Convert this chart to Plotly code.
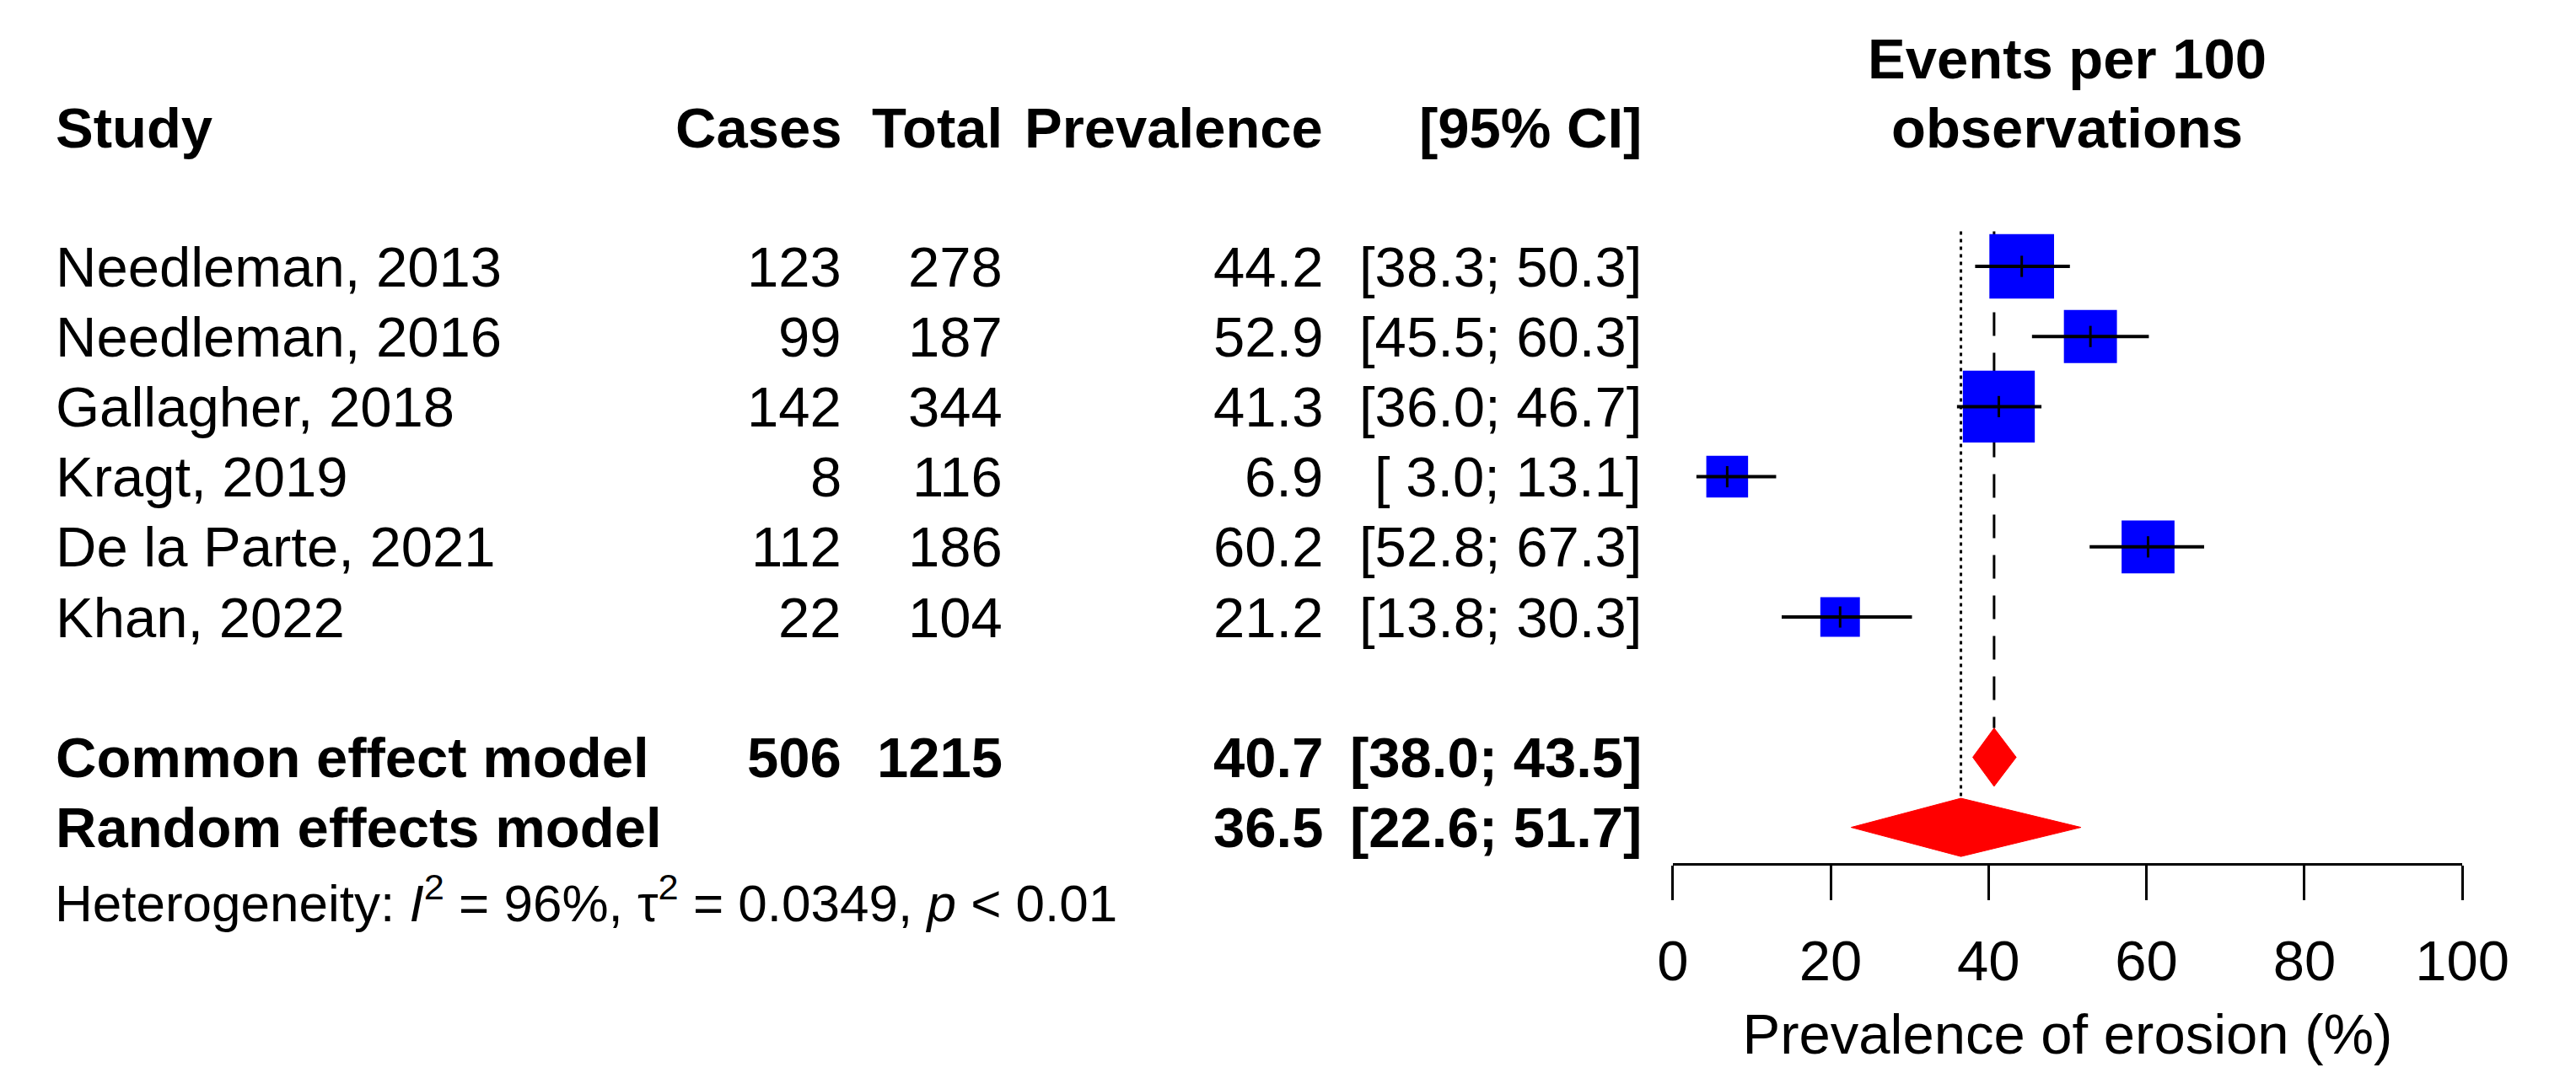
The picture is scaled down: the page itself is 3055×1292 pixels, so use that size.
import math
import plotly.graph_objects as go

# ---------------- data ----------------
studies = ["Needleman, 2013", "Needleman, 2016", "Gallagher, 2018",
           "Kragt, 2019", "De la Parte, 2021", "Khan, 2022"]
cases = [123, 99, 142, 8, 112, 22]
totals = [278, 187, 344, 116, 186, 104]
prevalence = [44.2, 52.9, 41.3, 6.9, 60.2, 21.2]
ci_low = [38.3, 45.5, 36.0, 3.0, 52.8, 13.8]
ci_high = [50.3, 60.3, 46.7, 13.1, 67.3, 30.3]

model_labels = ["Common effect model", "Random effects model"]
model_cases = ["506", ""]
model_totals = ["1215", ""]
model_est = [40.7, 36.5]
model_low = [38.0, 22.6]
model_high = [43.5, 51.7]

het_i2 = "96%"
het_tau2 = "0.0349"
het_p = "&lt; 0.01"

x_ticks = [0, 20, 40, 60, 80, 100]
headers = ["Study", "Cases", "Total", "Prevalence", "[95% CI]"]
right_title = ["Events per 100", "observations"]
x_title = "Prevalence of erosion (%)"

# ---------------- layout geometry ----------------
W, H = 3055, 1292
ROW0_PX, ROW_PX = 308, 83.2
FONT = "Arial, Liberation Sans, sans-serif"
FS = 67
BLUE = "#0000FF"
RED = "#FF0000"

study_rows = list(range(len(studies)))
model_rows = [7, 8]
het_row = 9.03
header_row = -1.98
col_x = [38, 997, 1193, 1583, 1970]  # px: left, right, right, right, right
diam_h = 0.415

fig = go.Figure()

# reference lines (behind squares)
fig.add_trace(go.Scatter(x=[model_est[0], model_est[0]], y=[-0.5, model_rows[0] - diam_h],
                         mode="lines", line=dict(color="black", width=3, dash="28px,20px"),
                         hoverinfo="skip", showlegend=False))
fig.add_trace(go.Scatter(x=[model_est[1], model_est[1]], y=[-0.5, model_rows[1] - diam_h],
                         mode="lines", line=dict(color="black", width=3, dash="4px,5px"),
                         hoverinfo="skip", showlegend=False))

# squares (area proportional to study size)
sizes = [4.6 * math.sqrt(t) for t in totals]
fig.add_trace(go.Scatter(x=prevalence, y=study_rows, mode="markers",
                         marker=dict(symbol="square", size=sizes, color=BLUE, opacity=1,
                                     line=dict(width=0)),
                         hoverinfo="skip", showlegend=False))

# CI lines
cx, cy = [], []
for lo, hi, r in zip(ci_low, ci_high, study_rows):
    cx += [lo, hi, None]
    cy += [r, r, None]
fig.add_trace(go.Scatter(x=cx, y=cy, mode="lines", line=dict(color="black", width=4),
                         hoverinfo="skip", showlegend=False))
# small vertical tick at point estimate
fig.add_trace(go.Scatter(x=prevalence, y=study_rows, mode="markers",
                         marker=dict(symbol="line-ns-open", size=18, color="black", opacity=1,
                                     line=dict(width=3, color="black")),
                         hoverinfo="skip", showlegend=False))

# diamonds
for est, lo, hi, r in zip(model_est, model_low, model_high, model_rows):
    fig.add_trace(go.Scatter(x=[lo, est, hi, est, lo], y=[r, r - diam_h, r, r + diam_h, r],
                             mode="lines", fill="toself", fillcolor=RED,
                             line=dict(color=RED, width=1),
                             hoverinfo="skip", showlegend=False))

# ---------------- text columns ----------------
ann = []


def txt(text, xpx, row, anchor, bold=False, size=FS):
    ann.append(dict(text=f"<b>{text}</b>" if bold else text,
                    x=xpx / W, xref="paper", y=row, yref="y",
                    xanchor=anchor, yanchor="middle", showarrow=False,
                    font=dict(family=FONT, size=size, color="black")))


anchors = ["left", "right", "right", "right", "right"]
for h, xp, a in zip(headers, col_x, anchors):
    txt(h, xp, header_row, a, bold=True)

for i, r in enumerate(study_rows):
    vals = [studies[i], str(cases[i]), str(totals[i]), f"{prevalence[i]:.1f}",
            f"[{ci_low[i]:4.1f}; {ci_high[i]:4.1f}]"]
    for v, xp, a in zip(vals, col_x, anchors):
        txt(v, xp, r, a)

for i, r in enumerate(model_rows):
    vals = [model_labels[i], model_cases[i], model_totals[i], f"{model_est[i]:.1f}",
            f"[{model_low[i]:4.1f}; {model_high[i]:4.1f}]"]
    for v, xp, a in zip(vals, col_x, anchors):
        if v:
            txt(v, xp, r, a, bold=True)

het_text = (f"Heterogeneity: <i>I</i><sup>2</sup> = {het_i2}, "
            f"τ<sup>2</sup> = {het_tau2}, <i>p</i> {het_p}")
txt(het_text, 37, het_row, "left", size=62)

# right-hand title
xa0, xa1 = 2006, 2966
txt(right_title[0], (xa0 + xa1) / 2, -2.96, "center", bold=True)
txt(right_title[1], (xa0 + xa1) / 2, -1.98, "center", bold=True)

fig.update_layout(
    width=W, height=H,
    margin=dict(l=0, r=0, t=0, b=0),
    paper_bgcolor="white", plot_bgcolor="white",
    showlegend=False,
    annotations=ann,
    xaxis=dict(domain=[xa0 / W, xa1 / W], range=[0, 100],
               anchor="free", position=1 - 1017 / H,
               showline=True, linecolor="black", linewidth=3.3,
               ticks="outside", ticklen=41, tickwidth=3.3, tickcolor="black",
               tickvals=x_ticks, ticktext=[str(t) for t in x_ticks],
               tickfont=dict(family=FONT, size=FS, color="black"),
               ticklabelstandoff=14,
               showgrid=False, zeroline=False,
               title=dict(text=x_title, font=dict(family=FONT, size=FS, color="black"),
                          standoff=27)),
    yaxis=dict(domain=[0, 1], range=[(H - ROW0_PX) / ROW_PX, -ROW0_PX / ROW_PX],
               visible=False, showgrid=False, zeroline=False),
)

fig.write_html("out.html")
